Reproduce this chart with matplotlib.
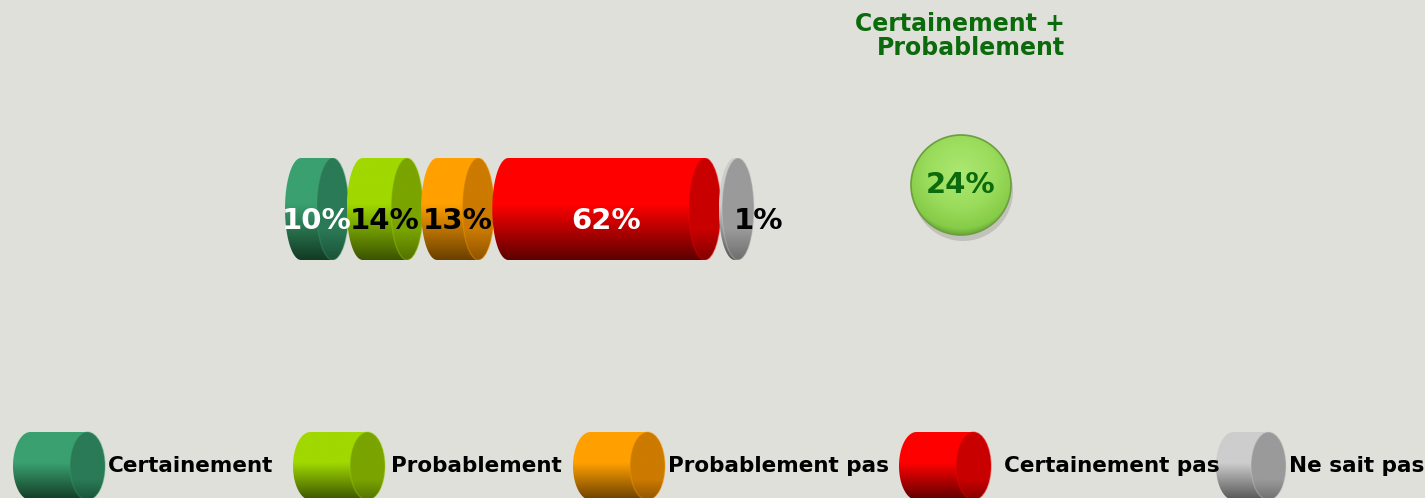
import numpy as np
import matplotlib

matplotlib.use("Agg")
import matplotlib.pyplot as plt
from matplotlib.colors import LinearSegmentedColormap
from matplotlib.patches import Ellipse, Polygon, Circle

# ---- data ----
categories = ["Certainement", "Probablement", "Probablement pas", "Certainement pas", "Ne sait pas"]
values = [10, 14, 13, 62, 1]
label_colors = ["white", "black", "black", "white", "black"]
top_label = "Certainement +\nProbablement"

# ---- palette: (body top, body bottom, cap) ----
BG = "#e0e0da"
DARKGREEN = "#0b6a0b"
SHADES = [
    ("#3aa070", "#123a24", "#2a7a56"),
    ("#a0d800", "#3b5300", "#7aa400"),
    ("#ffa000", "#6a3f00", "#cc7a00"),
    ("#ff0000", "#5c0000", "#c80000"),
    ("#cdcdcd", "#555555", "#9a9a9a"),
]
FONT = "DejaVu Sans"

W, H = 1425, 498
PX_PER_PCT = 3.17      # horizontal scale of the bar
GAP_PX = 30.0          # extra width each cylinder takes (its caps)
RX_PX = 16.0


def body_cmap(top, bottom):
    return LinearSegmentedColormap.from_list(
        "b", [(0.0, top), (0.45, top), (1.0, bottom)])


def cylinder(ax, x0, length, yc, height, rx, shade, zorder=2):
    top, bottom, cap = shade
    y0, y1 = yc - height / 2, yc + height / 2
    cl, cr = x0 + rx, x0 + rx + length
    t = np.linspace(np.pi / 2, 3 * np.pi / 2, 60)
    pts = np.column_stack([cl + rx * np.cos(t), yc + height / 2 * np.sin(t)])
    pts = np.vstack([pts, [[cr, y0 if pts[-1, 1] < yc else y1], [cr, y1 if pts[-1, 1] < yc else y0]]])
    body = Polygon(pts, closed=True, facecolor="none", edgecolor="none", transform=ax.transData)
    ax.add_patch(body)
    grad = np.linspace(0, 1, 256).reshape(-1, 1)
    if ax.yaxis_inverted():
        ext = (x0, cr + 0.01, y1, y0)
    else:
        ext = (x0, cr + 0.01, y0, y1)
    im = ax.imshow(grad, cmap=body_cmap(top, bottom), extent=ext, aspect="auto",
                   origin="upper", zorder=zorder, interpolation="bilinear")
    im.set_clip_path(body)
    capc = LinearSegmentedColormap.from_list("c", [(0, cap), (0.6, cap), (1.0, bottom)])
    capc = LinearSegmentedColormap.from_list(
        "c2", [(0, cap), (0.7, cap), (1.0, capc(0.85))])
    e = Ellipse((cr, yc), 2 * rx, height, facecolor="none", edgecolor="none")
    ax.add_patch(e)
    if ax.yaxis_inverted():
        ext2 = (cr - rx, cr + rx, y1, y0)
    else:
        ext2 = (cr - rx, cr + rx, y0, y1)
    im2 = ax.imshow(grad, cmap=capc, extent=ext2, aspect="auto", origin="upper",
                    zorder=zorder + 0.1, interpolation="bilinear")
    im2.set_clip_path(e)
    ax.add_patch(Ellipse((cr, yc), 2 * rx, height, facecolor="none",
                         edgecolor=top, lw=1.0, alpha=0.35, zorder=zorder + 0.2))


fig = plt.figure(figsize=(W / 100, H / 100), dpi=100, facecolor=BG)

# ---- stacked cylinder bar (x in percent) ----
bar_top, bar_bot = 158, 260
ax = fig.add_axes([0, 1 - bar_bot / H, 1, (bar_bot - bar_top) / H])
ax.set_xlim(-285 / PX_PER_PCT, (W - 285) / PX_PER_PCT)
ax.set_ylim(-0.5, 0.5)
ax.axis("off")
gap = GAP_PX / PX_PER_PCT
rx = RX_PX / PX_PER_PCT
cum = 0.0
for i, (v, sh, lc) in enumerate(zip(values, SHADES, label_colors)):
    left = cum + i * gap
    cylinder(ax, left, v, 0.0, 1.0, rx, sh, zorder=2 + i)
    cx = left + (v + 2 * rx) / 2
    if v < 3:
        ax.text(cx - 0.8, -0.12, f"{v}%", ha="left", va="center", color=lc,
                fontsize=21, fontweight="bold", family=FONT, zorder=20)
    else:
        ax.text(cx, -0.12, f"{v}%", ha="center", va="center", color=lc,
                fontsize=21, fontweight="bold", family=FONT, zorder=20)
    cum += v

# ---- overlay in pixel units: bubble, title, legend ----
ov = fig.add_axes([0, 0, 1, 1])
ov.set_xlim(0, W)
ov.set_ylim(H, 0)
ov.axis("off")
ov.patch.set_alpha(0)

ov.text(1065, 36, top_label, ha="right", va="center", color=DARKGREEN,
        fontsize=17, fontweight="bold", family=FONT, linespacing=1.0)

bx, by, br = 961, 185, 50
ov.add_patch(Ellipse((bx + 2, by + 6), 2 * br, 2 * br, facecolor="#8c8c86",
                     alpha=0.35, edgecolor="none", zorder=2))
circ = Circle((bx, by), br, facecolor="none", edgecolor="none")
ov.add_patch(circ)
gx, gy = np.meshgrid(np.linspace(-1, 1, 200), np.linspace(-1, 1, 200))
r = np.sqrt(gx ** 2 + (gy + 0.25) ** 2)
bubble_cmap = LinearSegmentedColormap.from_list(
    "bub", [(0, "#abe872"), (0.55, "#9bdc5c"), (0.9, "#86cc48"), (1.0, "#6aa838")])
im = ov.imshow(np.clip(r / 1.25, 0, 1), cmap=bubble_cmap, vmin=0, vmax=1,
               extent=(bx - br, bx + br, by + br, by - br), origin="upper",
               aspect="auto", zorder=3, interpolation="bilinear")
im.set_clip_path(circ)
ov.add_patch(Circle((bx, by), br, facecolor="none", edgecolor="#6b9e3c", lw=1.2, zorder=4))
ov.text(bx, by, f"{values[0] + values[1]}%", ha="center", va="center", color=DARKGREEN,
        fontsize=21, fontweight="bold", family=FONT, zorder=5)

# legend
icon_x = [13, 293, 573, 899, 1216]
text_x = [108, 391, 668, 1004, 1289]
for i, (cat, sh) in enumerate(zip(categories, SHADES)):
    ix = icon_x[i]
    icon_len = 92 - 2 * 17.5 if i < 4 else 70 - 2 * 17.5
    cylinder(ov, ix, icon_len, 466, 68, 17.5, sh, zorder=6 + i)
    ov.text(text_x[i], 466, cat, ha="left", va="center", color="black",
            fontsize=15.5, fontweight="bold", family=FONT, zorder=15)

fig.savefig("out.png", dpi=100, facecolor=BG)
